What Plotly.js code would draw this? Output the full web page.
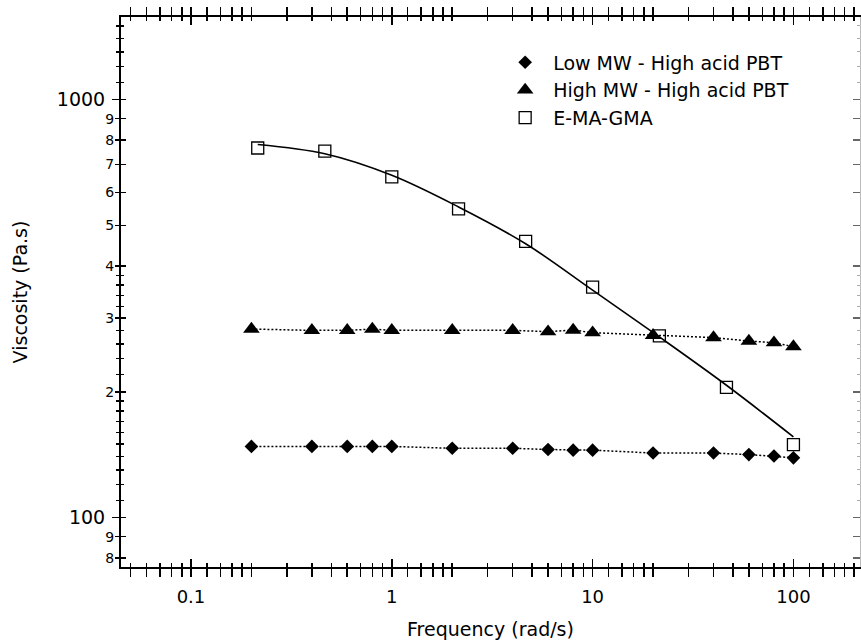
<!DOCTYPE html>
<html><head><meta charset="utf-8">
<script src="https://cdn.plot.ly/plotly-3.0.1.min.js"></script>
<style>html,body{margin:0;padding:0;background:#fff;}#chart{width:861px;height:641px;}</style>
</head><body><div id="chart"></div>
<script>
// ---- data ----
const freqPBT = [0.2, 0.4, 0.6, 0.8, 1, 2, 4, 6, 8, 10, 20, 40, 60, 80, 100];
const viscLowMW = [148, 148, 148, 148, 148, 146.5, 146.5, 145.5, 145, 145, 142.7, 142.7, 141.5, 140.4, 139];
const viscHighMW = [282.5, 280.5, 280.5, 282.5, 280.5, 280.5, 280.5, 278.5, 281, 277, 273, 269.5, 264.5, 262, 256.5];
const freqEMA = [0.215, 0.464, 1, 2.15, 4.64, 10, 21.5, 46.4, 100];
const viscEMA = [766, 753, 653, 548, 458, 356, 272, 205, 149.5];
const viscEMAFit = [781, 742, 659, 553.5, 452, 350, 270.5, 207.3, 156];
const seriesNames = ['Low MW - High acid PBT', 'High MW - High acid PBT', 'E-MA-GMA'];

const xTickVals = [0.1, 1, 10, 100];
const xTickText = ['0.1', '1', '10', '100'];
const yMajorVals = [100, 1000];
const yMajorText = ['100', '1000'];
const yDigitVals = [80, 90, 200, 300, 400, 500, 600, 700, 800, 900];
const yDigitText = ['8', '9', '2', '3', '4', '5', '6', '7', '8', '9'];

// ---- minor tick positions (axis configuration) ----
function seq(a, b, s) { const r = []; for (let v = a; v <= b + 1e-9; v += s) r.push(+v.toPrecision(6)); return r; }
const xMinor = [].concat(seq(0.05, 0.09, 0.01), seq(0.12, 0.18, 0.02), seq(0.2, 0.9, 0.1),
  seq(1.2, 1.8, 0.2), seq(2, 9, 1), seq(12, 18, 2), seq(20, 90, 10), seq(120, 180, 20), [200]);
const yMinor = [].concat(seq(110, 190, 10), seq(220, 380, 20), seq(1100, 1500, 100));

const FONT = 'DejaVu Sans, Verdana, sans-serif';
const xRange = [-1.3484, 2.3315];
const yRange = [1.8818, 3.1976];

const traces = [
  { x: freqPBT, y: viscLowMW, mode: 'lines', line: { color: 'black', width: 1.5, dash: '2px,2px' }, showlegend: false, hoverinfo: 'skip' },
  { x: freqPBT, y: viscHighMW, mode: 'lines', line: { color: 'black', width: 1.5, dash: '2px,2px' }, showlegend: false, hoverinfo: 'skip' },
  { x: freqEMA, y: viscEMAFit, mode: 'lines', line: { color: 'black', width: 1.6, shape: 'spline' }, showlegend: false, hoverinfo: 'skip' },
  { x: freqPBT, y: viscLowMW, mode: 'markers', name: seriesNames[0], marker: { symbol: 'diamond', size: 10.5, color: 'black' } },
  { x: freqPBT, y: viscHighMW, mode: 'markers', name: seriesNames[1], marker: { symbol: 'triangle-up', size: 14.5, color: 'black' } },
  { x: freqEMA, y: viscEMA, mode: 'markers', name: seriesNames[2], marker: { symbol: 'square-open', size: 12, color: 'black', line: { color: 'black', width: 1.3 } } },
  // empty traces so the overlaid tick-only axes get drawn
  { x: [], y: [], xaxis: 'x2', yaxis: 'y', mode: 'markers', showlegend: false, hoverinfo: 'skip' },
  { x: [], y: [], xaxis: 'x', yaxis: 'y2', mode: 'markers', showlegend: false, hoverinfo: 'skip' },
  { x: [], y: [], xaxis: 'x', yaxis: 'y3', mode: 'markers', showlegend: false, hoverinfo: 'skip' },
  { x: [], y: [], xaxis: 'x', yaxis: 'y4', mode: 'markers', showlegend: false, hoverinfo: 'skip' }
];

const tickCommon = { tickcolor: 'black', tickwidth: 1.5, showgrid: false, zeroline: false, fixedrange: true };

const layout = {
  width: 861, height: 641,
  margin: { l: 121, r: 1, t: 17, b: 74 },
  paper_bgcolor: 'white', plot_bgcolor: 'white',
  font: { family: FONT, color: 'black' },
  showlegend: true,
  legend: { x: 0.509, y: 0.952, xanchor: 'left', yanchor: 'top', bgcolor: 'rgba(0,0,0,0)', borderwidth: 0,
            itemwidth: 46, font: { family: FONT, size: 19, color: 'black' } },
  xaxis: Object.assign({}, tickCommon, {
    type: 'log', range: xRange, tickmode: 'array', tickvals: xTickVals, ticktext: xTickText,
    ticks: 'outside', ticklen: 8, showline: true, linecolor: 'black', linewidth: 2, mirror: 'allticks',
    tickfont: { family: FONT, size: 18, color: 'black' }, ticklabelstandoff: 4,
    minor: { tickmode: 'array', tickvals: xMinor, ticks: 'outside', ticklen: 4, tickwidth: 1.5, tickcolor: 'black', showgrid: false },
    title: { text: 'Frequency (rad/s)', font: { family: FONT, size: 19, color: 'black' }, standoff: 17 }
  }),
  xaxis2: Object.assign({}, tickCommon, {
    type: 'log', range: xRange, overlaying: 'x', anchor: 'y', side: 'bottom', tickmode: 'array', tickvals: xTickVals,
    ticks: 'inside', ticklen: 8, showticklabels: false, showline: true, linecolor: 'black', linewidth: 2, mirror: 'allticks',
    minor: { tickmode: 'array', tickvals: xMinor, ticks: 'inside', ticklen: 4, tickwidth: 1.5, tickcolor: 'black', showgrid: false }
  }),
  yaxis: Object.assign({}, tickCommon, {
    type: 'log', range: yRange, tickmode: 'array', tickvals: yMajorVals, ticktext: yMajorText,
    ticks: 'outside', ticklen: 7, showline: true, linecolor: 'black', linewidth: 2,
    tickfont: { family: FONT, size: 19, color: 'black' }, ticklabelstandoff: 3,
    minor: { tickmode: 'array', tickvals: yMinor, ticks: 'outside', ticklen: 3, tickwidth: 1.5, tickcolor: 'black', showgrid: false },
    title: { text: 'Viscosity (Pa.s)', font: { family: FONT, size: 19, color: 'black' }, standoff: 24 }
  }),
  yaxis2: Object.assign({}, tickCommon, {
    type: 'log', range: yRange, overlaying: 'y', anchor: 'x', side: 'left', tickmode: 'array',
    tickvals: yMajorVals.concat(yDigitVals), ticks: 'inside', ticklen: 5, showticklabels: false, showline: false,
    minor: { tickmode: 'array', tickvals: yMinor, ticks: 'inside', ticklen: 3, tickwidth: 1.5, tickcolor: 'black', showgrid: false }
  }),
  yaxis3: Object.assign({}, tickCommon, {
    type: 'log', range: yRange, overlaying: 'y', anchor: 'x', side: 'left', tickmode: 'array',
    tickvals: yDigitVals, ticktext: yDigitText, ticks: 'outside', ticklen: 5, showline: false,
    tickfont: { family: FONT, size: 14, color: 'black' }, ticklabelstandoff: -2
  }),
  yaxis4: Object.assign({}, tickCommon, {
    type: 'log', range: yRange, overlaying: 'y', anchor: 'x', side: 'right', tickmode: 'array',
    tickvals: yMajorVals.concat(yDigitVals), ticks: 'inside', ticklen: 7, tickcolor: '#666', showticklabels: false,
    showline: true, linecolor: '#bbbbbb', linewidth: 1,
    minor: { tickmode: 'array', tickvals: yMinor, ticks: 'inside', ticklen: 3, tickwidth: 1, tickcolor: '#aaaaaa', showgrid: false }
  })
};

Plotly.newPlot('chart', traces, layout, { displayModeBar: false, staticPlot: true });
</script>
</body></html>
